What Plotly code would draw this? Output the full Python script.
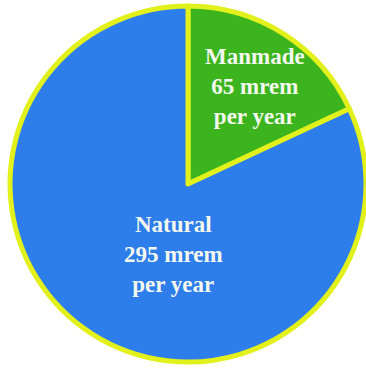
import plotly.graph_objects as go

# Annual radiation dose by source (mrem per year)
sources = ["Manmade", "Natural"]
doses = [65, 295]
unit = "mrem"
colors = ["#3cb41e", "#2d7deb"]
outline = "#e2f01c"

W, H = 366, 371
L, R, T, B = 10, 0, 6, 9
pw, ph = W - L - R, H - T - B


def px(x, y):
    """Pixel position -> paper coordinates."""
    return (x - L) / pw, 1 - (y - T) / ph


fig = go.Figure(
    go.Pie(
        labels=sources,
        values=doses,
        sort=False,
        direction="clockwise",
        rotation=0,
        marker=dict(colors=colors, line=dict(color=outline, width=5)),
        textinfo="none",
        hoverinfo="label+value",
        showlegend=False,
    )
)

label_pos = {"Manmade": (255, 87), "Natural": (173, 254)}
for name, val in zip(sources, doses):
    xp, yp = px(*label_pos[name])
    fig.add_annotation(
        x=xp, y=yp, xref="paper", yref="paper",
        xanchor="center", yanchor="middle",
        text=f"<b>{name}<br>{val} {unit}<br>per year</b>",
        showarrow=False,
        font=dict(family="Liberation Serif, Times New Roman, serif", size=23, color="#f4f8ee"),
        align="center",
    )

fig.update_layout(
    width=W, height=H,
    margin=dict(l=L, r=R, t=T, b=B),
    paper_bgcolor="white",
    plot_bgcolor="white",
)

fig.write_html("out.html")
